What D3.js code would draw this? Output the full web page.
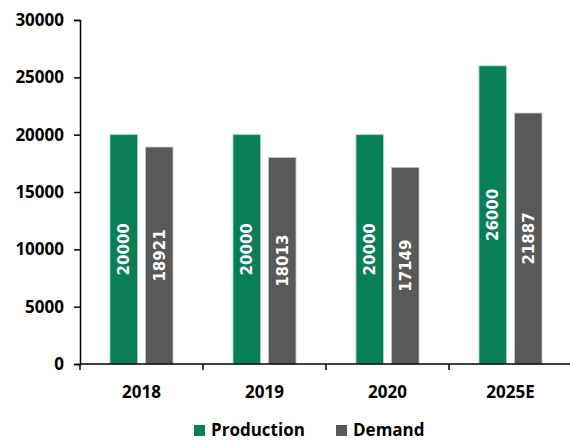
<!DOCTYPE html>
<html>
<head>
<meta charset="utf-8">
<script src="https://cdn.jsdelivr.net/npm/d3@7/dist/d3.min.js"></script>
<style>
  html, body { margin: 0; padding: 0; background: #fff; }
  svg { display: block; }
</style>
</head>
<body>
<svg id="chart" width="570" height="441"></svg>
<script>
// Production vs demand by year
const categories = ["2018", "2019", "2020", "2025E"];
const production = [20000, 20000, 20000, 26000];
const demand = [18921, 18013, 17149, 21887];
const seriesNames = ["Production", "Demand"];
const yTicks = [0, 5000, 10000, 15000, 20000, 25000, 30000];

const colors = { Production: "#087f56", Demand: "#595959" };
const axisFont = "'Open Sans', sans-serif";
const labelFont = "'DejaVu Sans', sans-serif";

const svg = d3.select("#chart");
const margin = { left: 80 };
const width = 570;

const x = d3.scaleBand()
  .domain(categories)
  .range([margin.left, 572])
  .paddingInner(0)
  .paddingOuter(0);

const y = d3.scaleLinear()
  .domain([0, 30000])
  .range([364, 20]);

const xSub = d3.scaleBand()
  .domain(seriesNames)
  .range([0, x.bandwidth()])
  .paddingInner(0.225)
  .paddingOuter(0.845);

const rows = categories.map((c, i) => ({
  cat: c,
  values: [
    { name: "Production", value: production[i] },
    { name: "Demand", value: demand[i] }
  ]
}));

// Bars
const groups = svg.append("g")
  .selectAll("g")
  .data(rows)
  .join("g")
  .attr("transform", d => `translate(${x(d.cat)},0)`);

groups.selectAll("rect")
  .data(d => d.values)
  .join("rect")
  .attr("x", d => xSub(d.name))
  .attr("y", d => y(d.value))
  .attr("width", xSub.bandwidth())
  .attr("height", d => y(0) - y(d.value))
  .attr("fill", d => colors[d.name])
  .attr("stroke", d => d.name === "Production" ? "#a8d8c4" : "#c8c8c8")
  .attr("stroke-width", 0.8);

// Value labels, rotated inside bars
groups.selectAll("text")
  .data(d => d.values)
  .join("text")
  .attr("transform", d => {
    const cx = xSub(d.name) + xSub.bandwidth() / 2;
    const cy = (y(d.value) + y(0)) / 2;
    return `translate(${cx},${cy}) rotate(-90)`;
  })
  .attr("text-anchor", "middle")
  .attr("dy", "0.36em")
  .attr("fill", "#ffffff")
  .style("font-family", labelFont)
  .style("font-weight", "bold")
  .style("font-size", "15px")
  .text(d => d.value);

// Y axis
const yAxis = svg.append("g")
  .attr("transform", `translate(${margin.left},0)`)
  .call(d3.axisLeft(y).tickValues(yTicks).tickSize(6).tickPadding(10).tickFormat(d3.format("d")));
yAxis.select(".domain").attr("stroke", "#000").attr("stroke-width", 1.5);
yAxis.selectAll(".tick line").attr("stroke", "#000").attr("stroke-width", 1.5);
yAxis.selectAll("text")
  .style("font-family", axisFont)
  .style("font-weight", "bold")
  .style("font-size", "17px")
  .attr("fill", "#000");

// X axis baseline with ticks between categories
const xAxisG = svg.append("g");
xAxisG.append("line")
  .attr("x1", margin.left)
  .attr("x2", width)
  .attr("y1", y(0))
  .attr("y2", y(0))
  .attr("stroke", "#000")
  .attr("stroke-width", 1.5);
xAxisG.selectAll("line.sep")
  .data(categories)
  .join("line")
  .attr("class", "sep")
  .attr("x1", d => x(d))
  .attr("x2", d => x(d))
  .attr("y1", y(0))
  .attr("y2", y(0) + 6)
  .attr("stroke", "#000")
  .attr("stroke-width", 1.5);
xAxisG.selectAll("text")
  .data(categories)
  .join("text")
  .attr("x", d => x(d) + x.bandwidth() / 2)
  .attr("y", 398)
  .attr("text-anchor", "middle")
  .style("font-family", axisFont)
  .style("font-weight", "bold")
  .style("font-size", "17px")
  .attr("fill", "#000")
  .text(d => d);

// Legend
const legendItems = [
  { name: "Production", x: 194 },
  { name: "Demand", x: 336 }
];
const legend = svg.append("g");
legend.selectAll("rect")
  .data(legendItems)
  .join("rect")
  .attr("x", d => d.x)
  .attr("y", 425)
  .attr("width", 11)
  .attr("height", 11)
  .attr("fill", d => colors[d.name]);
legend.selectAll("text")
  .data(legendItems)
  .join("text")
  .attr("x", d => d.x + 17)
  .attr("y", 436)
  .style("font-family", axisFont)
  .style("font-weight", "bold")
  .style("font-size", "17px")
  .attr("fill", "#000")
  .text(d => d.name);
</script>
</body>
</html>
